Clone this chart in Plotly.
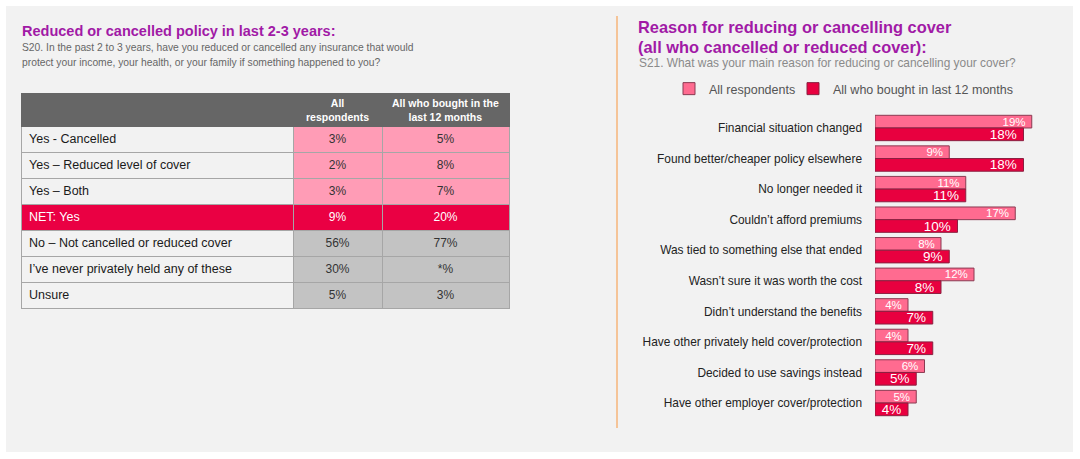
import plotly.graph_objects as go

W, H = 1080, 459

# left table data
row_labels = ["Yes - Cancelled", "Yes – Reduced level of cover", "Yes – Both", "NET: Yes",
              "No – Not cancelled or reduced cover", "I’ve never privately held any of these", "Unsure"]
all_resp_pct = ["3%", "2%", "3%", "9%", "56%", "30%", "5%"]
bought_pct = ["5%", "8%", "7%", "20%", "77%", "*%", "3%"]
table_headers = ["All<br>respondents", "All who bought in the<br>last 12 months"]

# right bar chart data
reasons = ["Financial situation changed", "Found better/cheaper policy elsewhere", "No longer needed it",
           "Couldn’t afford premiums", "Was tied to something else that ended",
           "Wasn’t sure it was worth the cost", "Didn’t understand the benefits",
           "Have other privately held cover/protection", "Decided to use savings instead",
           "Have other employer cover/protection"]
all_respondents = [19, 9, 11, 17, 8, 12, 4, 4, 6, 5]
bought_last_12m = [18, 18, 11, 10, 9, 8, 7, 7, 5, 4]

PURPLE = "#a11aa6"
PINK = "#ff6b90"
RED = "#e8003f"
NET_RED = "#ea0043"
FONT = "Liberation Sans, Arial"

# table geometry (px)
TBL_X = [21, 293, 382, 509]
TBL_TOP, HEAD_H, ROW_H = 93, 33, 26


def px_x(x):
    return x / W


def px_y(y):
    return 1 - y / H


fig = go.Figure()

# table (header text goes in as annotations so the header row can stay 33px tall)
n = len(row_labels)
net_i = row_labels.index("NET: Yes")
label_fill = ["#f2f2f2" if i != net_i else NET_RED for i in range(n)]
value_fill = ["#ff9cb6" if i < net_i else NET_RED if i == net_i else "#c3c3c3" for i in range(n)]
label_color = ["#1a1a1a" if i != net_i else "white" for i in range(n)]
value_color = ["#333333" if i != net_i else "white" for i in range(n)]

fig.add_trace(go.Table(
    domain=dict(x=[px_x(TBL_X[0]), px_x(TBL_X[-1])], y=[px_y(340), px_y(TBL_TOP)]),
    columnwidth=[TBL_X[1] - TBL_X[0], TBL_X[2] - TBL_X[1], TBL_X[3] - TBL_X[2]],
    header=dict(values=["", "", ""],
                fill_color="#666666",
                line=dict(color="#666666", width=1),
                font=dict(family=FONT, size=10.5, color="white"),
                height=HEAD_H),
    cells=dict(values=[row_labels, all_resp_pct, bought_pct],
               fill_color=[label_fill, value_fill, value_fill],
               line=dict(color="#a6a6a6", width=1),
               font=dict(family=FONT, size=[12.5, 12, 12],
                         color=[label_color, value_color, value_color]),
               align=["left", "center", "center"], height=ROW_H),
))

# bars
fig.add_trace(go.Bar(
    y=reasons, x=all_respondents, orientation="h", name="All respondents",
    marker=dict(color=PINK, line=dict(color="#8a3b52", width=1)),
    texttemplate="%{x}%\u00a0", textposition="inside", insidetextanchor="end",
    textfont=dict(color="white", size=11.5, family=FONT),
    xaxis="x", yaxis="y", legend="legend", showlegend=True,
))
fig.add_trace(go.Bar(
    y=reasons, x=bought_last_12m, orientation="h", name="All who bought in last 12 months",
    marker=dict(color=RED, line=dict(color="#8a2040", width=1)),
    texttemplate="%{x}%\u00a0", textposition="inside", insidetextanchor="end",
    textfont=dict(color="white", size=13.5, family=FONT),
    xaxis="x", yaxis="y", legend="legend2", showlegend=True,
))

annotations = [
    dict(text="<b>Reduced or cancelled policy in last 2-3 years:</b>", x=px_x(20), y=px_y(31),
         font=dict(size=14.5, color=PURPLE)),
    dict(text="S20. In the past 2 to 3 years, have you reduced or cancelled any insurance that would",
         x=px_x(20), y=px_y(47), font=dict(size=10.3, color="#666666")),
    dict(text="protect your income, your health, or your family if something happened to you?",
         x=px_x(20), y=px_y(62), font=dict(size=10.3, color="#666666")),
    dict(text="<b>Reason for reducing or cancelling cover</b>", x=px_x(636), y=px_y(27),
         font=dict(size=16.4, color=PURPLE)),
    dict(text="<b>(all who cancelled or reduced cover):</b>", x=px_x(636), y=px_y(47),
         font=dict(size=16.4, color=PURPLE)),
    dict(text="S21. What was your main reason for reducing or cancelling your cover?",
         x=px_x(637), y=px_y(63), font=dict(size=11.9, color="#8a8a8a")),
]
for a in annotations:
    a.update(xanchor="left")
for j, head in enumerate(table_headers):
    annotations.append(dict(text=f"<b>{head}</b>", x=px_x((TBL_X[j + 1] + TBL_X[j + 2]) / 2),
                            y=px_y(TBL_TOP + HEAD_H / 2), xanchor="center", align="center",
                            font=dict(size=10.5, color="white")))
for a in annotations:
    a.update(xref="paper", yref="paper", yanchor="middle", showarrow=False)
    a["font"]["family"] = FONT


def legend_at(x):
    return dict(orientation="h", xanchor="left", yanchor="top", x=px_x(x), y=px_y(74),
                font=dict(size=12.5, color="#555555"), bgcolor="rgba(0,0,0,0)", visible=True)


fig.update_layout(
    width=W, height=H,
    margin=dict(l=0, r=0, t=0, b=0),
    paper_bgcolor="white",
    plot_bgcolor="rgba(0,0,0,0)",
    font=dict(family=FONT, color="#222222"),
    showlegend=True,
    barmode="group", bargap=0.17, bargroupgap=0,
    annotations=annotations,
    shapes=[
        dict(type="rect", xref="paper", yref="paper", x0=px_x(6), x1=px_x(1073), y0=px_y(452), y1=px_y(6),
             fillcolor="#f2f2f2", line=dict(width=0), layer="below"),
        dict(type="line", xref="paper", yref="paper", x0=px_x(617), x1=px_x(617), y0=px_y(428), y1=px_y(16),
             line=dict(color="#f6b57a", width=1.5)),
    ],
    legend=legend_at(669),
    legend2=legend_at(793),
    xaxis=dict(domain=[px_x(875), px_x(1073)], range=[0, 24], visible=False),
    yaxis=dict(domain=[px_y(418.3), px_y(112.7)], range=[9.5, -0.5], type="category",
               showgrid=False, showline=False, zeroline=False, ticks="",
               ticklabelstandoff=12, tickfont=dict(size=11.9, color="#222222")),
)
fig.update_traces(selector=dict(type="bar"), constraintext="none")

fig.write_html("out.html", config={"displayModeBar": False},
               post_script="document.body.style.margin='0';")
